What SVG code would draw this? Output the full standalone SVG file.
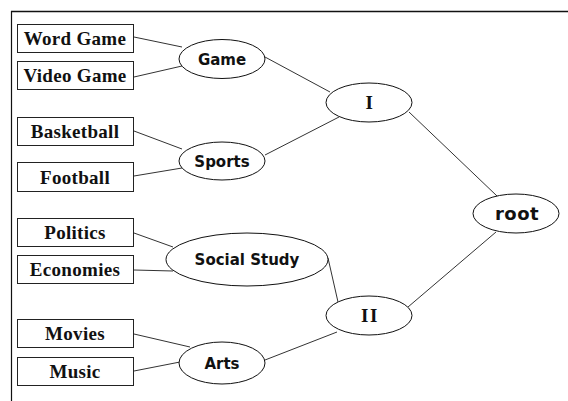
<svg xmlns="http://www.w3.org/2000/svg" width="568" height="401" viewBox="0 0 568 401">
<style>
.box{fill:#fff;stroke:#222;stroke-width:1}
.ell{fill:#fff;stroke:#111;stroke-width:1}
.bt{font-family:"Liberation Serif","Times New Roman",serif;font-size:19px;font-weight:bold;fill:#111;text-anchor:middle;letter-spacing:0.3px}
.et{font-family:"DejaVu Sans",Verdana,sans-serif;font-size:15px;font-weight:bold;fill:#111;text-anchor:middle}
.rt{font-family:"Liberation Serif","Times New Roman",serif;font-size:19px;font-weight:bold;fill:#111;text-anchor:middle;letter-spacing:1.5px}
.cn line{stroke:#333;stroke-width:1}
</style>
<rect width="568" height="401" fill="#fff"/>
<g id="frame" stroke="#111" fill="none">
<line x1="11" y1="11.5" x2="568" y2="11.5" stroke-width="1.5"/>
<line x1="11.5" y1="11" x2="11.5" y2="401" stroke-width="1.2"/>
</g>
<g id="connectors" class="cn">
<line x1="134" y1="37" x2="182" y2="47"/>
<line x1="134" y1="77" x2="182" y2="66"/>
<line x1="265" y1="57" x2="330" y2="92"/>
<line x1="134" y1="131" x2="182" y2="149"/>
<line x1="134" y1="176" x2="182" y2="168"/>
<line x1="265" y1="155" x2="339" y2="117"/>
<line x1="409" y1="112" x2="497" y2="196"/>
<line x1="496" y1="232" x2="408" y2="307"/>
<line x1="328" y1="258" x2="338" y2="302"/>
<line x1="134" y1="233" x2="173" y2="247"/>
<line x1="134" y1="270" x2="173" y2="271"/>
<line x1="134" y1="334" x2="190" y2="347"/>
<line x1="134" y1="371" x2="180" y2="362"/>
<line x1="265" y1="360" x2="337" y2="332"/>
</g>
<g id="word-game"><rect class="box" x="17.5" y="24.5" width="116" height="28"/><text class="bt" x="75" y="44.5">Word Game</text></g>
<g id="video-game"><rect class="box" x="17.5" y="61.5" width="116" height="28"/><text class="bt" x="75" y="82">Video Game</text></g>
<g id="basketball"><rect class="box" x="17.5" y="117.5" width="116" height="28"/><text class="bt" x="75" y="138">Basketball</text></g>
<g id="football"><rect class="box" x="17.5" y="162.5" width="116" height="29"/><text class="bt" x="75" y="183.5">Football</text></g>
<g id="politics"><rect class="box" x="17.5" y="218.5" width="116" height="28"/><text class="bt" x="75" y="239">Politics</text></g>
<g id="economies"><rect class="box" x="17.5" y="255.5" width="116" height="28"/><text class="bt" x="75" y="276">Economies</text></g>
<g id="movies"><rect class="box" x="17.5" y="319.5" width="116" height="28"/><text class="bt" x="75" y="340">Movies</text></g>
<g id="music"><rect class="box" x="17.5" y="357.5" width="116" height="28"/><text class="bt" x="75" y="378">Music</text></g>
<g id="game"><ellipse class="ell" cx="222" cy="59" rx="43" ry="19.5"/><text class="et" x="222" y="64.5">Game</text></g>
<g id="sports"><ellipse class="ell" cx="222" cy="161" rx="43" ry="19"/><text class="et" x="222" y="166.5">Sports</text></g>
<g id="social-study"><ellipse class="ell" cx="247" cy="259.5" rx="81" ry="26.5"/><text class="et" x="247" y="265">Social Study</text></g>
<g id="arts"><ellipse class="ell" cx="222" cy="363" rx="43" ry="21"/><text class="et" x="222" y="368.5">Arts</text></g>
<g id="I"><ellipse class="ell" cx="369" cy="102.5" rx="43" ry="19.5"/><text class="rt" x="370" y="109">I</text></g>
<g id="II"><ellipse class="ell" cx="369" cy="315.5" rx="43" ry="19.5"/><text class="rt" x="370" y="322">II</text></g>
<g id="root"><ellipse class="ell" cx="516" cy="213.5" rx="43" ry="19.5"/><text class="et" x="517" y="220" style="font-size:18px;letter-spacing:0.5px">root</text></g>
</svg>
